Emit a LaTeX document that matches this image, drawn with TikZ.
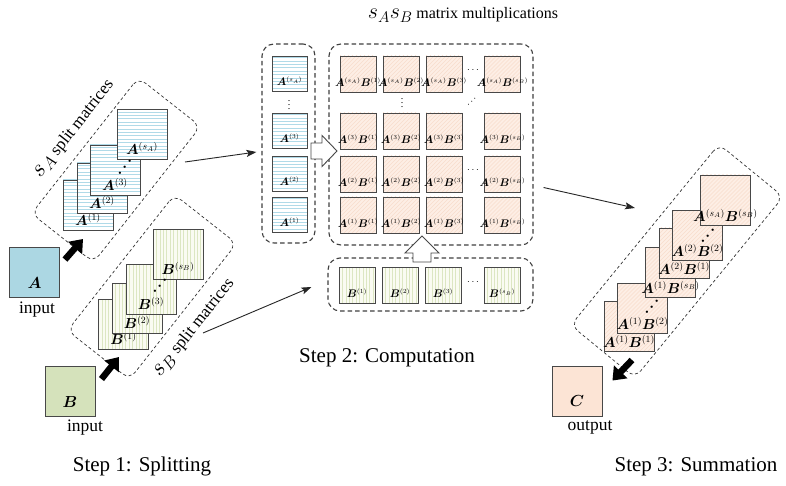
\documentclass[tikz,border=0pt]{standalone}
\usepackage{fix-cm}
\usepackage{fontspec}
\setmainfont{Liberation Serif}
\usepackage{bm}
\usetikzlibrary{arrows.meta}

% sizes of the math labels and of their superscripts
\DeclareMathSizes{14.5}{14.5}{9.5}{7}
\DeclareMathSizes{11}{11}{6.2}{5}

\definecolor{edge}{RGB}{72,72,72}
\definecolor{ainput}{RGB}{172,215,227}
\definecolor{astripe}{RGB}{176,218,232}
\definecolor{binput}{RGB}{213,226,187}
\definecolor{bback}{RGB}{250,251,242}
\definecolor{bstripe}{RGB}{220,230,194}
\definecolor{coutput}{RGB}{252,228,213}
\definecolor{pback}{RGB}{253,238,229}
\definecolor{pstripe}{RGB}{248,220,204}

\newcommand\MatA[1]{\bm{A}^{(#1)}}
\newcommand\MatB[1]{\bm{B}^{(#1)}}

\tikzset{
  mat/.style={draw=edge, line width=0.9pt, inner sep=0pt, minimum size=#1},
  hstripes/.style={path picture={\foreach \k in {1,...,16}{\draw[astripe,line width=0.6pt]
      ([yshift=\k*3.4pt]path picture bounding box.south west) --
      ([yshift=\k*3.4pt]path picture bounding box.south east);}}},
  vstripes/.style={path picture={\foreach \k in {1,...,16}{\draw[bstripe,line width=0.6pt]
      ([xshift=\k*3.4pt]path picture bounding box.south west) --
      ([xshift=\k*3.4pt]path picture bounding box.north west);}}},
  dstripes/.style={path picture={\foreach \k in {-14,...,14}{\draw[pstripe,line width=0.6pt]
      ([xshift=\k*4pt]path picture bounding box.south west) -- ++(60pt,60pt);}}},
  amat/.style={mat=#1, fill=white, hstripes},
  bmat/.style={mat=#1, fill=bback, vstripes},
  pmat/.style={mat=#1, fill=pback, dstripes},
  inmat/.style={draw=edge, line width=0.9pt, inner sep=0pt, minimum size=50pt},
  biglab/.style={anchor=base, inner sep=0pt, font=\fontsize{14.5}{14.5}\selectfont},
  smalllab/.style={anchor=base, inner sep=0pt, font=\fontsize{11}{11}\selectfont},
  inlab/.style={anchor=base, inner sep=0pt, font=\fontsize{16}{16}\selectfont},
  word/.style={inner sep=0pt, font=\fontsize{17.5}{18}\selectfont},
  steptitle/.style={inner sep=0pt, font=\fontsize{21}{21}\selectfont},
  dotsmark/.style={inner sep=0pt, font=\fontsize{15}{15}\selectfont},
  thin arrow/.style={draw=black!85, line width=0.9pt, -{Stealth[length=10pt,width=7pt,inset=2pt]}},
  fat arrow/.style={draw=black, line width=6.5pt, -{Triangle[length=12pt,width=18pt]}},
  hollow/.style={draw=edge, fill=white, line width=0.9pt, line join=miter},
  tiltbox/.style={draw=black!80, line width=0.7pt, dash pattern=on 3pt off 2.5pt, rounded corners=9pt, inner sep=0pt},
  groupbox/.style={draw=black!75, line width=1.1pt, dash pattern=on 4.5pt off 3pt, rounded corners=12pt, inner sep=0pt},
}

\begin{document}
\begin{tikzpicture}[x=1pt, y=-1pt]
\useasboundingbox (0,0) rectangle (786,486);
\fill[white] (0,0) rectangle (786,486);

% ---------------- Step 1: splitting ----------------
\node[inmat, fill=ainput] (ain) at (34.5,272) {};
\node[inlab] (ain-t) at ([yshift=9pt]ain.south) {$\bm{A}$};
\node[word] (ain-w) at (37,310) {input};

\node[inmat, fill=binput] (bin) at (70,391.5) {};
\node[inlab] (bin-t) at ([yshift=9pt]bin.south) {$\bm{B}$};
\node[word] (bin-w) at (85,428) {input};

\node[tiltbox, minimum width=173pt, minimum height=79pt, rotate=51.8] (abox) at (116,170) {};
\node[tiltbox, minimum width=173pt, minimum height=79pt, rotate=51.8] (bbox) at (152,287) {};
\node[inner sep=0pt, rotate=51.8] (abox-l) at (74,129)
  {\fontsize{24}{24}\selectfont$s_A$\,\fontsize{17}{17}\selectfont split matrices};
\node[inner sep=0pt, rotate=51.8] (bbox-l) at (194,328)
  {\fontsize{24}{24}\selectfont$s_B$\,\fontsize{17}{17}\selectfont split matrices};

% split blocks of A
\node[amat=50pt] (a1) at (88,205) {};
\node[biglab] (a1-t) at ([yshift=5pt]a1.south) {$\MatA{1}$};
\node[amat=50pt] (a2) at (102,188) {};
\node[biglab] (a2-t) at ([yshift=5pt]a2.south) {$\MatA{2}$};
\node[amat=50pt] (a3) at (115,170) {};
\node[biglab] (a3-t) at ([yshift=5pt]a3.south) {$\MatA{3}$};
\node[amat=50pt] (as) at (142,134.5) {};
\node[biglab] (as-t) at ([yshift=5pt]as.south) {$\MatA{s_A}$};
\node[dotsmark, rotate=50] (a-dots) at (125,167.5) {$\bm{\cdots}$};

% split blocks of B
\node[bmat=50pt] (b1) at (123.5,324) {};
\node[biglab] (b1-t) at ([yshift=5pt]b1.south) {$\MatB{1}$};
\node[bmat=50pt] (b2) at (137,308) {};
\node[biglab] (b2-t) at ([yshift=5pt]b2.south) {$\MatB{2}$};
\node[bmat=50pt] (b3) at (151,289) {};
\node[biglab] (b3-t) at ([yshift=5pt]b3.south) {$\MatB{3}$};
\node[bmat=50pt] (bs) at (178,254) {};
\node[biglab] (bs-t) at ([yshift=5pt]bs.south) {$\MatB{s_B}$};
\node[dotsmark, rotate=50] (b-dots) at (160,286) {$\bm{\cdots}$};

\coordinate (a-split) at (83,239);
\coordinate (b-split) at (119,357);
\draw[fat arrow] ([shift={(5pt,-13pt)}]ain.north east) -- (a-split);
\draw[fat arrow] ([shift={(6pt,-13pt)}]bin.north east) -- (b-split);

\node[steptitle] (step1) at (142,466) {Step 1: Splitting};

% ---------------- Step 2: computation ----------------
\node[inner sep=0pt] (title2) at (463,15)
  {\fontsize{22}{22}\selectfont$s_As_B$\,\fontsize{16}{16}\selectfont matrix multiplications};

\node[groupbox, minimum width=53pt, minimum height=199pt] (acol) at (288.5,143.5) {};
\node[groupbox, minimum width=204pt, minimum height=201pt] (grid) at (431,144.5) {};
\node[groupbox, minimum width=205pt, minimum height=53pt] (brow) at (430.5,284.5) {};

\foreach \r/\ry/\rs in {a/74/s_A, 3/131/3, 2/174/2, 1/215/1}{
  \node[amat=35pt] (ac\r) at (289.5,\ry) {};
  \node[smalllab] (ac\r-t) at ([yshift=6pt]ac\r.south) {$\MatA{\rs}$};
  \foreach \c/\cx/\cs in {1/358/1, 2/401/2, 3/444/3, b/502.5/s_B}{
    \node[pmat=36pt] (p\r\c) at (\cx,\ry) {};
    \node[smalllab] (p\r\c-t) at ([yshift=6pt]p\r\c.south) {$\MatA{\rs}\MatB{\cs}$};
  }
}
\foreach \c/\cx/\cs in {1/357/1, 2/400/2, 3/443/3, b/502/s_B}{
  \node[bmat=36pt] (br\c) at (\cx,285.5) {};
  \node[smalllab] (br\c-t) at ([yshift=6pt]br\c.south) {$\MatB{\cs}$};
}
\node[inner sep=0pt] (acol-dots) at (289,102) {$\vdots$};
\node[inner sep=0pt] (grid-vdots) at (402,100) {$\vdots$};
\node[inner sep=0pt, rotate=45] (grid-ddots) at (472,102) {$\cdots$};
\node[inner sep=0pt] (grid-hdots-a) at (473,70) {$\cdots$};
\node[inner sep=0pt] (grid-hdots-b) at (473,170) {$\cdots$};
\node[inner sep=0pt] (brow-dots) at (473,282) {$\cdots$};

% block arrows feeding the product grid
\coordinate (feed-a) at (311,151);
\draw[hollow] (feed-a) ++(0,-8) -- ++(11,0) -- ++(0,-7.5) -- ++(15,15.5)
  -- ++(-15,15.5) -- ++(0,-7.5) -- ++(-11,0) -- cycle;
\coordinate (feed-b) at (422,262);
\draw[hollow] (feed-b) ++(-9,0) -- ++(0,-9) -- ++(-8,0) -- ++(17,-17)
  -- ++(17,17) -- ++(-8,0) -- ++(0,9) -- cycle;

\coordinate (a-out) at (185,162);
\coordinate (b-out) at (203,333);
\draw[thin arrow] (a-out) -- ([shift={(-5pt,-8.5pt)}]acol.west);
\draw[thin arrow] (b-out) -- ([shift={(-16pt,-2.5pt)}]brow.west);

\node[steptitle] (step2) at (387,358) {Step 2: Computation};

% ---------------- Step 3: summation ----------------
\node[tiltbox, minimum width=234pt, minimum height=83pt, rotate=50.7] (sbox) at (677,261) {};
\coordinate (s-in) at (635,208);
\draw[thin arrow] ([shift={(10pt,-43pt)}]grid.east) -- (s-in);

\node[pmat=50pt] (s1) at (629,326) {};
\node[biglab] (s1-t) at ([yshift=4pt]s1.south) {$\MatA{1}\MatB{1}$};
\node[pmat=50pt] (s2) at (642.5,308) {};
\node[biglab] (s2-t) at ([yshift=4pt]s2.south) {$\MatA{1}\MatB{2}$};
\node[pmat=50pt] (s3) at (670.5,272) {};
\node[biglab] (s3-t) at ([yshift=4pt]s3.south) {$\MatA{1}\MatB{s_B}$};
\node[pmat=50pt] (s4) at (684,253) {};
\node[biglab] (s4-t) at ([yshift=4pt]s4.south) {$\MatA{2}\MatB{1}$};
\node[pmat=50pt] (s5) at (697.5,235.5) {};
\node[biglab] (s5-t) at ([yshift=4pt]s5.south) {$\MatA{2}\MatB{2}$};
\node[pmat=50pt] (s6) at (725.5,200) {};
\node[biglab] (s6-t) at ([yshift=4pt]s6.south) {$\MatA{s_A}\MatB{s_B}$};
\node[dotsmark, rotate=50] (s-dots1) at (652,307) {$\bm{\cdots}$};
\node[dotsmark, rotate=50] (s-dots2) at (708,236) {$\bm{\cdots}$};

\node[inmat, fill=coutput] (cout) at (577,391) {};
\node[inlab] (cout-t) at ([yshift=10pt]cout.south) {$\bm{C}$};
\node[word] (cout-w) at (590,427) {output};
\coordinate (s-out) at (632,360);
\draw[fat arrow] (s-out) -- ([shift={(10pt,-15pt)}]cout.north east);

\node[steptitle] (step3) at (696,467) {Step 3: Summation};
\end{tikzpicture}
\end{document}
